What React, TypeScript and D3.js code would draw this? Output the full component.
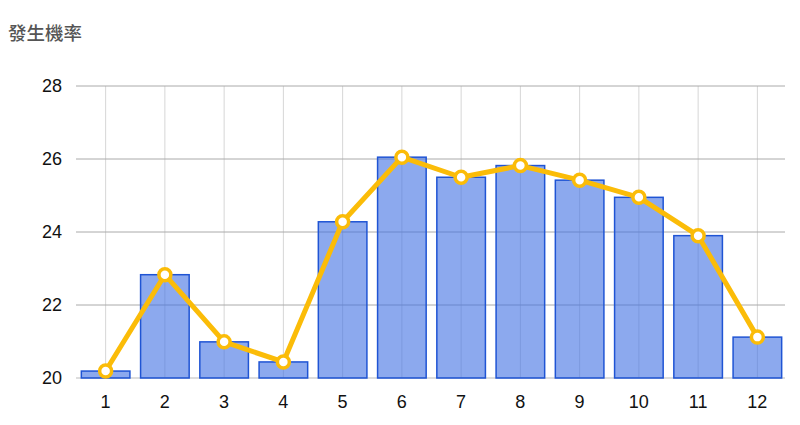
import React from "react";
import * as d3 from "d3";

const categories = ["1", "2", "3", "4", "5", "6", "7", "8", "9", "10", "11", "12"];
const barValues = [20.19, 22.83, 20.99, 20.44, 24.28, 26.05, 25.5, 25.82, 25.42, 24.95, 23.9, 21.12];
const lineValues = [20.19, 22.83, 20.99, 20.44, 24.28, 26.05, 25.5, 25.82, 25.42, 24.95, 23.9, 21.12];
const yTicks = [20, 22, 24, 26, 28];
const title = "發生機率";

const W = 800;
const H = 425;
const left = 76;
const right = 787;
const top = 86;
const bottom = 378;

export default function App() {
  const x = d3.scaleBand<string>().domain(categories).range([left, right]).paddingInner(0.18).paddingOuter(0.09);
  const y = d3.scaleLinear().domain([20, 28]).range([bottom, top]);
  const cx = (c: string) => (x(c) as number) + x.bandwidth() / 2;
  const line = d3
    .line<number>()
    .x((_, i) => cx(categories[i]))
    .y((d) => y(d));
  const font = "'Liberation Sans', Arial, sans-serif";
  return (
    <svg width={W} height={H} style={{ position: "fixed", left: 0, top: 0, background: "#fff" }}>
      <text x={8} y={40} fontSize={18.5} fontWeight={500} fill="#555" fontFamily="'Noto Sans CJK TC', sans-serif">
        {title}
      </text>
      {categories.map((c) => (
        <line key={"vg" + c} x1={cx(c)} x2={cx(c)} y1={top} y2={bottom} stroke="#d6d6d6" strokeWidth={1} />
      ))}
      {yTicks.map((t) => (
        <g key={"yt" + t}>
          <line x1={left} x2={right - 2} y1={y(t)} y2={y(t)} stroke={t === 20 ? "#bbb" : "#aaa"} strokeWidth={1} />
          <text x={62} y={y(t)} dy="0.36em" textAnchor="end" fontSize={18} fill="#111" fontFamily={font}>
            {t}
          </text>
        </g>
      ))}
      {categories.map((c, i) => (
        <rect
          key={"b" + c}
          x={x(c)}
          y={y(barValues[i])}
          width={x.bandwidth()}
          height={y(20) - y(barValues[i])}
          fill="#3f6fe2"
          fillOpacity={0.6}
          stroke="#1f54d4"
          strokeWidth={1.5}
        />
      ))}
      <path d={line(lineValues) || ""} fill="none" stroke="#fbbc08" strokeWidth={5} strokeLinejoin="round" />
      {categories.map((c, i) => (
        <circle key={"p" + c} cx={cx(c)} cy={y(lineValues[i])} r={6} fill="#fff" stroke="#fbbc08" strokeWidth={3.5} />
      ))}
      {categories.map((c) => (
        <text key={"xl" + c} x={cx(c)} y={408} textAnchor="middle" fontSize={18} fill="#111" fontFamily={font}>
          {c}
        </text>
      ))}
    </svg>
  );
}
